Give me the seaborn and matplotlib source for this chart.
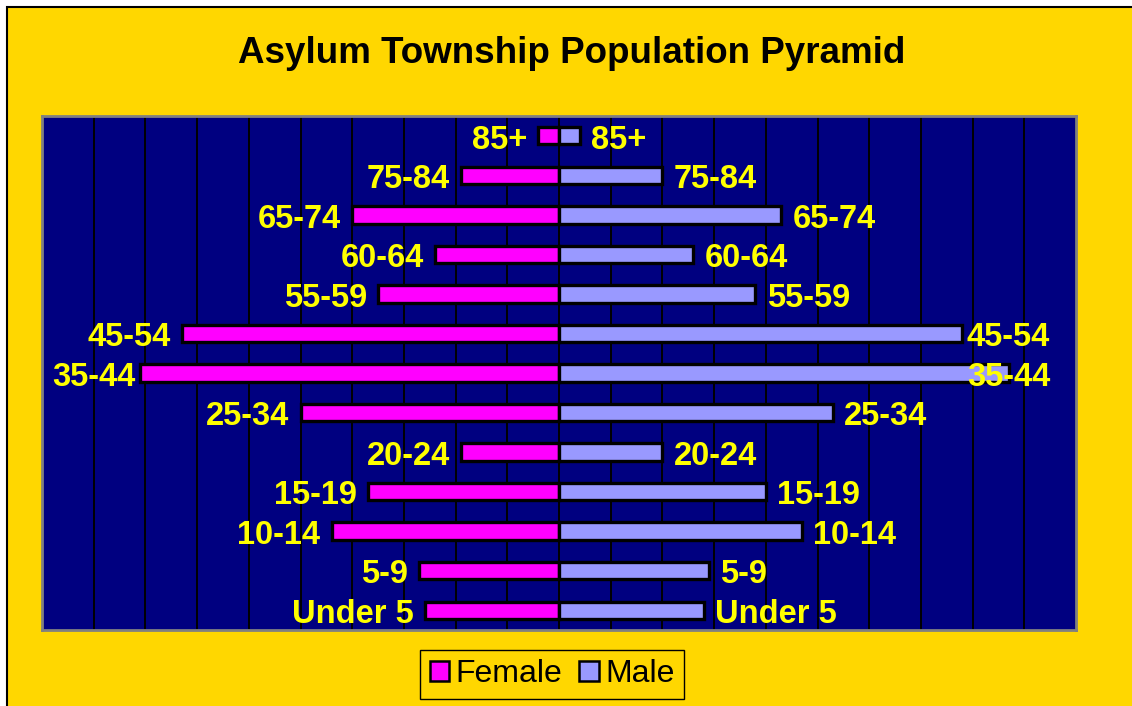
import numpy as np
import pandas as pd
import matplotlib
matplotlib.use("Agg")
import matplotlib.pyplot as plt
from matplotlib.patches import Rectangle, Patch
import seaborn as sns

# ---- data ----
ages = ["85+", "75-84", "65-74", "60-64", "55-59", "45-54", "35-44",
        "25-34", "20-24", "15-19", "10-14", "5-9", "Under 5"]
female = [4, 19, 40, 24, 35, 73, 81, 50, 19, 37, 44, 27, 26]
male = [4, 20, 43, 26, 38, 78, 87, 53, 20, 40, 47, 29, 28]
series = ["Female", "Male"]
title = "Asylum Township Population Pyramid"

YELLOW = "#FFD700"
NAVY = "#000080"
PINK = "#FF00FF"
LAV = "#9999FF"
LABEL = "#FFFF00"

sns.set_theme(style="white")
plt.rcParams["font.family"] = ["Liberation Sans", "DejaVu Sans"]
plt.rcParams["text.color"] = "black"

W, H, DPI = 1132, 706, 100
fig = plt.figure(figsize=(W / DPI, H / DPI), dpi=DPI, facecolor="white")

# yellow chart area with black border (left/top visible)
fig.patches.append(Rectangle((7 / W, -0.05), 1.2, (H - 7) / H + 0.05,
                             transform=fig.transFigure, facecolor=YELLOW,
                             edgecolor="black", lw=1.5, zorder=-10))

ax = fig.add_axes([42 / W, 1 - 630 / H, (1076 - 42) / W, (630 - 116) / H])
ax.set_facecolor(NAVY)

df = pd.DataFrame({
    "age": ages + ages,
    "sex": ["Female"] * len(ages) + ["Male"] * len(ages),
    "pop": [-v for v in female] + list(male),
})

sns.barplot(data=df, x="pop", y="age", hue="sex", order=ages,
            hue_order=series, palette={"Female": PINK, "Male": LAV},
            dodge=False, width=0.44, edgecolor="black", linewidth=2.4,
            orient="h", legend=False, ax=ax, saturation=1)

ax.set_xlim(-100, 100)
ax.set_ylim(len(ages) - 0.5, -0.5)
ax.set_xticks(np.arange(-100, 101, 10))
ax.xaxis.grid(True, color="black", lw=1.4)
ax.yaxis.grid(False)
ax.set_axisbelow(True)
ax.tick_params(left=False, bottom=False, labelleft=False, labelbottom=False)
ax.set_xlabel("")
ax.set_ylabel("")
for s in ax.spines.values():
    s.set_color("#808080")
    s.set_linewidth(2)

FS = 23.5
texts = []
for i, a in enumerate(ages):
    t1 = ax.annotate(a, xy=(-female[i], i), xytext=(-8, -9.2),
                     textcoords="offset points", ha="right", va="baseline",
                     color=LABEL, fontsize=FS, fontweight="bold")
    t2 = ax.annotate(a, xy=(male[i], i), xytext=(8, -9.2),
                     textcoords="offset points", ha="left", va="baseline",
                     color=LABEL, fontsize=FS, fontweight="bold")
    texts.append((t1, -1))
    texts.append((t2, 1))

# keep labels within the plot area like the original
fig.canvas.draw()
r = fig.canvas.get_renderer()
abox = ax.get_window_extent(r)
for t, side in texts:
    bb = t.get_window_extent(r)
    if side == 1 and bb.x1 > abox.x1 - 26:
        over = bb.x1 - (abox.x1 - 26)
        x, y = t.xyann
        t.xyann = (x - over * 72 / DPI, y)
    if side == -1 and bb.x0 < abox.x0 + 10:
        over = (abox.x0 + 10) - bb.x0
        x, y = t.xyann
        t.xyann = (x + over * 72 / DPI, y)

fig.text(572 / W, 1 - 63 / H, title, ha="center", va="baseline",
         fontsize=26.5, fontweight="bold", color="black")

handles = [Patch(facecolor=PINK, edgecolor="black", lw=1.8),
           Patch(facecolor=LAV, edgecolor="black", lw=1.8)]
leg = fig.legend(handles, series, loc="center",
                 bbox_to_anchor=(552 / W, 1 - 674.5 / H), ncol=2,
                 fontsize=23, frameon=True, fancybox=False,
                 facecolor=YELLOW, edgecolor="black", framealpha=1,
                 handlelength=0.6, handleheight=0.6, handletextpad=0.2,
                 columnspacing=0.55, borderpad=0.3, borderaxespad=0,
                 labelcolor="black")
leg.get_frame().set_linewidth(1.0)

fig.savefig("out.png", dpi=DPI, facecolor=fig.get_facecolor())
